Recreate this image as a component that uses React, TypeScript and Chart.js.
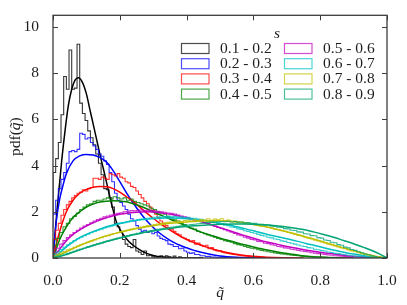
import { useEffect, useRef } from 'react';
import { Chart, registerables } from 'chart.js';

Chart.register(...registerables);

// ---------- data ----------
const seriesLabels = ['0.1 - 0.2', '0.2 - 0.3', '0.3 - 0.4', '0.4 - 0.5', '0.5 - 0.6', '0.6 - 0.7', '0.7 - 0.8', '0.8 - 0.9'];
const seriesColors = ['#000000', '#0000ff', '#ff0000', '#008000', '#c000c0', '#00c0c0', '#c0c000', '#00a474'];
const xTickValues = [0, 0.2, 0.4, 0.6, 0.8, 1.0];
const yTickValues = [0, 2, 4, 6, 8, 10];

// histogram bin widths
const binWidths = [0.008, 0.008, 0.008, 0.01, 0.01, 0.01, 0.01, 0.01];

const histBlack = [1.9, 3.7, 4.3, 5.0, 6.2, 7.85, 7.3, 9.0, 7.3, 7.35,
  9.25, 6.7, 6.25, 5.95, 5.5, 5.2, 4.9, 4.5, 4.1, 3.6,
  3.0, 2.95, 2.6, 2.2, 1.5, 1.35, 1.1, 0.8, 0.6, 0.5,
  0.45, 0.8, 0.3, 0.25, 0.15, 0.3, 0.1, 0.12, 0.05, 0.0,
  0.05, 0.1, 0.0, 0.1, 0.05, 0.0, 0.08, 0.0, 0.05, 0];
const histBlue = [1.3, 1.9, 2.5, 3.0, 3.4, 3.7, 4.1, 4.6, 4.65, 4.6,
  4.7, 5.4, 5.35, 5.15, 5.2, 5.0, 4.85, 4.7, 4.5, 4.4,
  4.2, 4.05, 3.7, 3.3, 2.8, 2.5, 2.4, 2.25, 2.1, 1.9,
  1.7, 1.6, 1.4, 1.25, 1.15, 1.2, 1.1, 1.15, 1.05, 1.1,
  0.95, 0.85, 0.8, 0.75, 0.6, 0.58, 0.5, 0.5, 0.4, 0.42,
  0.3, 0.25, 0.2, 0.22, 0.15, 0.15, 0.1, 0.1, 0.06, 0.07,
  0.04, 0.04, 0.02, 0.03, 0.01, 0.02, 0, 0.01, 0, 0,
  0, 0, 0, 0, 0];
const histRed = [0.4, 0.8, 1.2, 1.5, 1.85, 2.1, 2.3, 2.45, 2.6, 2.7,
  2.8, 2.85, 2.95, 2.9, 3.0, 3.05, 3.45, 3.45, 3.4, 3.5,
  3.45, 3.4, 3.65, 3.6, 3.55, 3.65, 3.5, 3.45, 3.3, 3.25,
  3.1, 3.05, 2.9, 2.75, 2.6, 2.45, 2.35, 2.2, 2.05, 1.9,
  1.75, 1.6, 1.5, 1.4, 1.3, 1.25, 1.15, 1.05, 1.0, 0.9,
  0.85, 0.8, 0.7, 0.75, 0.6, 0.65, 0.55, 0.5, 0.55, 0.4,
  0.45, 0.35, 0.3, 0.32, 0.25, 0.22, 0.2, 0.18, 0.15, 0.14,
  0.12, 0.1, 0.09, 0.08, 0.07, 0.05, 0.05, 0.04, 0.03, 0.03,
  0.02, 0.02, 0.015, 0.01, 0.01, 0.005, 0.005, 0];
const histGreen = [0.25, 0.55, 0.85, 1.1, 1.35, 1.5, 1.7, 1.8, 1.95, 2.1,
  2.2, 2.3, 2.35, 2.45, 2.5, 2.5, 2.55, 2.6, 2.55, 2.65,
  2.6, 2.55, 2.6, 2.5, 2.55, 2.45, 2.4, 2.35, 2.3, 2.25,
  2.15, 2.1, 2.0, 1.95, 1.9, 1.8, 1.75, 1.65, 1.6, 1.5,
  1.45, 1.35, 1.3, 1.25, 1.15, 1.1, 1.05, 1.0, 0.95, 0.9,
  0.85, 0.8, 0.75, 0.72, 0.68, 0.62, 0.58, 0.55, 0.5, 0.46,
  0.42, 0.4, 0.36, 0.33, 0.3, 0.27, 0.25, 0.22, 0.2, 0.18,
  0.16, 0.14, 0.12, 0.11, 0.1, 0.08, 0.07, 0.06, 0.05, 0.04,
  0.035, 0.03, 0.025, 0.02, 0.015, 0.01, 0.01, 0.005, 0.005, 0];
const histMagenta = [0.1, 0.25, 0.42, 0.6, 0.75, 0.88, 1.0, 1.1, 1.2, 1.3,
  1.38, 1.45, 1.52, 1.6, 1.66, 1.72, 1.78, 1.82, 1.86, 1.9,
  1.93, 1.96, 2.0, 2.02, 2.05, 2.04, 2.06, 2.08, 2.05, 2.07,
  2.05, 2.04, 2.02, 2.0, 1.98, 1.95, 1.93, 1.9, 1.86, 1.82,
  1.78, 1.74, 1.7, 1.66, 1.62, 1.58, 1.52, 1.48, 1.43, 1.38,
  1.32, 1.28, 1.22, 1.17, 1.12, 1.06, 1.0, 0.96, 0.9, 0.86,
  0.8, 0.78, 0.72, 0.7, 0.64, 0.62, 0.57, 0.55, 0.5, 0.48,
  0.44, 0.42, 0.38, 0.36, 0.33, 0.3, 0.28, 0.26, 0.23, 0.21,
  0.19, 0.17, 0.15, 0.13, 0.12, 0.1, 0.09, 0.08, 0.06, 0.05,
  0.04, 0.035, 0.03, 0.02, 0.015, 0.01, 0.008, 0.005, 0.003, 0];
const histCyan = [0.05, 0.15, 0.26, 0.37, 0.47, 0.57, 0.66, 0.75, 0.83, 0.9,
  0.97, 1.03, 1.09, 1.15, 1.2, 1.25, 1.3, 1.34, 1.38, 1.42,
  1.46, 1.5, 1.53, 1.56, 1.6, 1.62, 1.65, 1.68, 1.7, 1.72,
  1.74, 1.76, 1.78, 1.77, 1.79, 1.8, 1.78, 1.8, 1.77, 1.78,
  1.75, 1.76, 1.72, 1.72, 1.68, 1.67, 1.63, 1.62, 1.57, 1.55,
  1.5, 1.47, 1.42, 1.4, 1.34, 1.32, 1.26, 1.24, 1.18, 1.15,
  1.1, 1.07, 1.02, 0.98, 0.95, 0.9, 0.87, 0.82, 0.8, 0.74,
  0.72, 0.67, 0.64, 0.6, 0.56, 0.52, 0.5, 0.45, 0.43, 0.38,
  0.36, 0.32, 0.3, 0.26, 0.24, 0.2, 0.19, 0.16, 0.14, 0.12,
  0.1, 0.08, 0.07, 0.05, 0.04, 0.03, 0.02, 0.01, 0.005, 0];
const histYellow = [0.03, 0.09, 0.16, 0.22, 0.28, 0.35, 0.4, 0.46, 0.52, 0.58,
  0.63, 0.68, 0.73, 0.78, 0.83, 0.88, 0.93, 0.97, 1.02, 1.06,
  1.1, 1.14, 1.18, 1.21, 1.25, 1.28, 1.31, 1.34, 1.37, 1.4,
  1.42, 1.45, 1.47, 1.5, 1.52, 1.54, 1.56, 1.58, 1.6, 1.58,
  1.62, 1.63, 1.6, 1.65, 1.62, 1.66, 1.64, 1.7, 1.63, 1.68,
  1.65, 1.7, 1.62, 1.64, 1.6, 1.6, 1.56, 1.55, 1.52, 1.5,
  1.47, 1.44, 1.42, 1.38, 1.36, 1.32, 1.3, 1.25, 1.22, 1.18,
  1.15, 1.1, 1.07, 1.02, 0.98, 0.95, 0.9, 0.86, 0.82, 0.77,
  0.74, 0.69, 0.65, 0.6, 0.56, 0.52, 0.48, 0.43, 0.4, 0.35,
  0.31, 0.27, 0.23, 0.19, 0.15, 0.12, 0.08, 0.05, 0.03, 0.01];
const histTeal = [0.02, 0.05, 0.08, 0.12, 0.16, 0.2, 0.25, 0.29, 0.34, 0.39,
  0.43, 0.48, 0.52, 0.57, 0.61, 0.65, 0.7, 0.74, 0.78, 0.82,
  0.86, 0.9, 0.94, 0.97, 1.01, 1.04, 1.07, 1.1, 1.13, 1.16,
  1.19, 1.21, 1.24, 1.26, 1.29, 1.31, 1.33, 1.35, 1.37, 1.39,
  1.41, 1.43, 1.45, 1.46, 1.48, 1.5, 1.51, 1.53, 1.54, 1.56,
  1.57, 1.58, 1.57, 1.59, 1.56, 1.58, 1.55, 1.56, 1.52, 1.53,
  1.5, 1.5, 1.46, 1.46, 1.42, 1.42, 1.38, 1.37, 1.33, 1.32,
  1.27, 1.26, 1.2, 1.19, 1.13, 1.12, 1.05, 1.04, 0.97, 0.96,
  0.88, 0.86, 0.78, 0.76, 0.68, 0.66, 0.58, 0.55, 0.47, 0.44,
  0.37, 0.33, 0.27, 0.23, 0.17, 0.14, 0.09, 0.06, 0.03, 0.01];

// fitted curves: [q, pdf]
const curveBlack = [[0, 0], [0.011, 1.9], [0.026, 4.2], [0.036, 5.5], [0.046, 6.6], [0.056, 7.3], [0.066, 7.7], [0.076, 7.8], [0.088, 7.6], [0.1, 7.1], [0.11, 6.45], [0.121, 5.75], [0.131, 5.1], [0.141, 4.45], [0.151, 3.85], [0.163, 3.1], [0.176, 2.3], [0.19, 1.55], [0.2, 1.25], [0.21, 1.02], [0.225, 0.75], [0.24, 0.55], [0.26, 0.35], [0.28, 0.2], [0.3, 0.11], [0.33, 0.04], [0.36, 0.015], [0.4, 0.004], [0.45, 0]];
const curveBlue = [[0, 0], [0.01, 1.6], [0.02, 2.55], [0.03, 3.15], [0.04, 3.65], [0.06, 4.2], [0.08, 4.42], [0.1, 4.48], [0.12, 4.46], [0.14, 4.35], [0.16, 4.15], [0.18, 3.78], [0.2, 3.3], [0.22, 2.82], [0.24, 2.38], [0.26, 1.98], [0.28, 1.62], [0.3, 1.32], [0.32, 1.07], [0.34, 0.86], [0.36, 0.69], [0.38, 0.55], [0.4, 0.44], [0.42, 0.34], [0.44, 0.26], [0.47, 0.16], [0.5, 0.09], [0.55, 0.035], [0.6, 0.01], [0.65, 0]];
const curveRed = [[0, 0], [0.01, 0.6], [0.02, 1.15], [0.04, 2.0], [0.06, 2.5], [0.08, 2.8], [0.1, 2.97], [0.12, 3.06], [0.14, 3.09], [0.16, 3.08], [0.18, 3.0], [0.2, 2.85], [0.22, 2.65], [0.24, 2.45], [0.26, 2.2], [0.28, 1.95], [0.3, 1.72], [0.32, 1.5], [0.34, 1.3], [0.36, 1.12], [0.38, 0.95], [0.4, 0.8], [0.42, 0.68], [0.44, 0.57], [0.46, 0.47], [0.48, 0.38], [0.5, 0.3], [0.54, 0.18], [0.58, 0.1], [0.62, 0.05], [0.66, 0.02], [0.7, 0.01], [0.75, 0]];
const curveGreen = [[0, 0], [0.01, 0.4], [0.02, 0.8], [0.04, 1.35], [0.06, 1.75], [0.08, 2.0], [0.1, 2.2], [0.12, 2.33], [0.14, 2.42], [0.16, 2.46], [0.18, 2.48], [0.2, 2.47], [0.22, 2.43], [0.24, 2.35], [0.26, 2.25], [0.28, 2.13], [0.3, 2.0], [0.32, 1.87], [0.34, 1.75], [0.36, 1.62], [0.38, 1.5], [0.4, 1.37], [0.42, 1.25], [0.44, 1.14], [0.46, 1.04], [0.48, 0.95], [0.5, 0.86], [0.52, 0.78], [0.54, 0.7], [0.56, 0.62], [0.58, 0.55], [0.6, 0.48], [0.62, 0.41], [0.65, 0.32], [0.68, 0.24], [0.71, 0.17], [0.74, 0.11], [0.77, 0.07], [0.8, 0.04], [0.85, 0.01], [0.9, 0]];
const curveMagenta = [[0, 0], [0.02, 0.38], [0.04, 0.75], [0.06, 1.02], [0.08, 1.22], [0.1, 1.38], [0.12, 1.52], [0.14, 1.64], [0.16, 1.74], [0.18, 1.83], [0.2, 1.89], [0.22, 1.94], [0.24, 1.97], [0.26, 1.99], [0.28, 2.0], [0.3, 1.99], [0.32, 1.96], [0.34, 1.92], [0.36, 1.87], [0.38, 1.8], [0.4, 1.73], [0.43, 1.62], [0.46, 1.5], [0.49, 1.36], [0.52, 1.22], [0.55, 1.08], [0.58, 0.94], [0.61, 0.81], [0.64, 0.69], [0.67, 0.6], [0.7, 0.5], [0.73, 0.42], [0.76, 0.34], [0.79, 0.27], [0.82, 0.21], [0.85, 0.15], [0.88, 0.1], [0.91, 0.06], [0.94, 0.03], [0.97, 0.01], [1.0, 0]];
const curveCyan = [[0, 0], [0.02, 0.22], [0.04, 0.48], [0.06, 0.7], [0.08, 0.88], [0.1, 1.02], [0.12, 1.14], [0.14, 1.25], [0.16, 1.35], [0.18, 1.43], [0.2, 1.5], [0.22, 1.56], [0.24, 1.61], [0.26, 1.65], [0.28, 1.68], [0.3, 1.7], [0.32, 1.72], [0.34, 1.73], [0.36, 1.73], [0.38, 1.72], [0.4, 1.7], [0.43, 1.66], [0.46, 1.6], [0.49, 1.53], [0.52, 1.45], [0.55, 1.35], [0.58, 1.25], [0.61, 1.14], [0.64, 1.03], [0.67, 0.93], [0.7, 0.83], [0.73, 0.73], [0.76, 0.62], [0.79, 0.52], [0.82, 0.41], [0.85, 0.31], [0.88, 0.22], [0.91, 0.15], [0.94, 0.08], [0.97, 0.03], [1.0, 0]];
const curveYellow = [[0, 0], [0.02, 0.13], [0.04, 0.27], [0.06, 0.41], [0.08, 0.54], [0.1, 0.66], [0.12, 0.77], [0.14, 0.87], [0.16, 0.96], [0.18, 1.04], [0.2, 1.11], [0.22, 1.18], [0.24, 1.24], [0.26, 1.3], [0.28, 1.35], [0.3, 1.4], [0.33, 1.46], [0.36, 1.51], [0.39, 1.55], [0.42, 1.58], [0.45, 1.6], [0.48, 1.61], [0.51, 1.6], [0.54, 1.57], [0.57, 1.52], [0.6, 1.45], [0.63, 1.37], [0.66, 1.28], [0.69, 1.17], [0.72, 1.06], [0.75, 0.94], [0.78, 0.82], [0.81, 0.69], [0.84, 0.56], [0.87, 0.43], [0.9, 0.32], [0.93, 0.2], [0.96, 0.1], [0.98, 0.04], [1.0, 0]];
const curveTeal = [[0, 0], [0.02, 0.06], [0.04, 0.15], [0.06, 0.25], [0.08, 0.35], [0.1, 0.45], [0.12, 0.54], [0.14, 0.63], [0.16, 0.71], [0.18, 0.79], [0.2, 0.86], [0.22, 0.93], [0.24, 1.0], [0.26, 1.06], [0.28, 1.12], [0.3, 1.17], [0.33, 1.24], [0.36, 1.3], [0.39, 1.35], [0.42, 1.39], [0.45, 1.42], [0.48, 1.45], [0.51, 1.46], [0.54, 1.47], [0.57, 1.47], [0.6, 1.46], [0.63, 1.44], [0.66, 1.41], [0.69, 1.36], [0.72, 1.3], [0.75, 1.23], [0.78, 1.13], [0.81, 1.02], [0.84, 0.9], [0.87, 0.76], [0.9, 0.62], [0.93, 0.46], [0.96, 0.29], [0.98, 0.16], [1.0, 0]];

const histograms = [histBlack, histBlue, histRed, histGreen, histMagenta, histCyan, histYellow, histTeal];
const curves = [curveBlack, curveBlue, curveRed, curveGreen, curveMagenta, curveCyan, curveYellow, curveTeal];

// ---------- helpers ----------
const FONT = "'Liberation Serif', 'Times New Roman', serif";
const TEXT = '#1e1e1e';
const FRAME = '#3c3c3c';

function withAlpha(hex: string, a: number) {
  const r = parseInt(hex.slice(1, 3), 16);
  const g = parseInt(hex.slice(3, 5), 16);
  const b = parseInt(hex.slice(5, 7), 16);
  return `rgba(${r},${g},${b},${a})`;
}

function histPoints(values: number[], w: number) {
  const pts = values.map((v, i) => ({ x: i * w, y: v }));
  pts.push({ x: values.length * w, y: 0 });
  return pts;
}

const HIST_ALPHA = 0.8;

const decorPlugin = {
  id: 'decor',
  afterDatasetsDraw(chart: any) {
    const { ctx, chartArea: a, scales } = chart;
    const xs = scales.x;
    const ys = scales.y;
    ctx.save();
    // inward ticks on all sides
    ctx.strokeStyle = FRAME;
    ctx.lineWidth = 1;
    ctx.beginPath();
    const tl = 5;
    xs.ticks.forEach((t: any) => {
      const px = Math.round(xs.getPixelForValue(t.value)) + 0.5;
      ctx.moveTo(px, a.bottom);
      ctx.lineTo(px, a.bottom - tl);
      ctx.moveTo(px, a.top);
      ctx.lineTo(px, a.top + tl);
    });
    ys.ticks.forEach((t: any) => {
      const py = Math.round(ys.getPixelForValue(t.value)) + 0.5;
      ctx.moveTo(a.left, py);
      ctx.lineTo(a.left + tl, py);
      ctx.moveTo(a.right, py);
      ctx.lineTo(a.right - tl, py);
    });
    ctx.stroke();
    // frame
    ctx.lineWidth = 1.3;
    ctx.strokeRect(a.left, a.top, a.right - a.left, a.bottom - a.top);

    // axis titles
    ctx.fillStyle = TEXT;
    ctx.textBaseline = 'middle';
    ctx.font = `italic 15.5px ${FONT}`;
    ctx.textAlign = 'center';
    ctx.fillText('q\u0303', (a.left + a.right) / 2, 293);
    ctx.save();
    ctx.translate(16, (a.top + a.bottom) / 2);
    ctx.rotate(-Math.PI / 2);
    ctx.textAlign = 'left';
    const parts = [
      { t: 'pdf(', f: `15.5px ${FONT}` },
      { t: 'q\u0303', f: `italic 15.5px ${FONT}` },
      { t: ')', f: `15.5px ${FONT}` },
    ];
    let total = 0;
    parts.forEach((p) => { ctx.font = p.f; total += ctx.measureText(p.t).width; });
    let cx = -total / 2;
    parts.forEach((p) => { ctx.font = p.f; ctx.fillText(p.t, cx, 0); cx += ctx.measureText(p.t).width; });
    ctx.restore();

    // legend
    ctx.font = `italic 15.5px ${FONT}`;
    ctx.textAlign = 'center';
    ctx.fillText('s', 277, 34);
    const colX = [181.5, 284.5];
    const rowY0 = 48.5;
    const rowStep = 15.2;
    const bw = 27.5;
    const bh = 10;
    ctx.font = `15.5px ${FONT}`;
    ctx.textAlign = 'left';
    seriesLabels.forEach((lab, i) => {
      const col = Math.floor(i / 4);
      const row = i % 4;
      const bx = colX[col];
      const cy = rowY0 + row * rowStep;
      ctx.strokeStyle = withAlpha(seriesColors[i], 0.7);
      ctx.lineWidth = 1.2;
      ctx.strokeRect(bx, cy - bh / 2, bw, bh);
      ctx.fillStyle = TEXT;
      ctx.fillText(lab, bx + 38.5, cy + 0.5);
    });
    ctx.restore();
  },
};

export default function App() {
  const ref = useRef<HTMLCanvasElement | null>(null);
  useEffect(() => {
    if (!ref.current) return;
    const datasets: any[] = [];
    seriesLabels.forEach((lab, i) => {
      datasets.push({
        label: lab + ' hist',
        data: histPoints(histograms[i], binWidths[i]),
        borderColor: withAlpha(seriesColors[i], HIST_ALPHA),
        borderWidth: 1.1,
        stepped: 'after',
        pointRadius: 0,
        fill: false,
        order: 100 - 2 * i,
      });
      datasets.push({
        label: lab,
        data: curves[i].map(([x, y]) => ({ x, y })),
        borderColor: seriesColors[i],
        borderWidth: 1.5,
        cubicInterpolationMode: 'monotone',
        pointRadius: 0,
        fill: false,
        order: 100 - 2 * i - 1,
      });
    });
    const chart = new Chart(ref.current, {
      type: 'line',
      data: { datasets },
      options: {
        animation: false,
        responsive: false,
        devicePixelRatio: 1,
        parsing: false,
        normalized: true,
        layout: { padding: { left: 0, top: 15, right: 20, bottom: 0 } },
        plugins: { legend: { display: false }, tooltip: { enabled: false } },
        scales: {
          x: {
            type: 'linear',
            min: 0,
            max: 1,
            grid: { display: false },
            border: { display: false },
            afterBuildTicks: (s: any) => { s.ticks = xTickValues.map((v) => ({ value: v })); },
            afterFit: (s: any) => { s.height = 47; },
            ticks: {
              padding: 6,
              color: TEXT,
              font: { family: FONT, size: 15.5 },
              maxRotation: 0,
              callback: (v: any) => Number(v).toFixed(1),
            },
          },
          y: {
            type: 'linear',
            min: 0,
            max: 10.5,
            grid: { display: false },
            border: { display: false },
            afterBuildTicks: (s: any) => { s.ticks = yTickValues.map((v) => ({ value: v })); },
            afterFit: (s: any) => { s.width = 53; },
            ticks: {
              padding: 6,
              color: TEXT,
              font: { family: FONT, size: 15.5 },
              callback: (v: any) => String(v),
            },
          },
        },
      },
      plugins: [decorPlugin],
    });
    return () => chart.destroy();
  }, []);
  return (
    <div style={{ position: 'fixed', left: 0, top: 0, width: 407, height: 305, background: '#fff' }}>
      <canvas ref={ref} width={407} height={305} style={{ width: 407, height: 305, display: 'block' }} />
    </div>
  );
}
